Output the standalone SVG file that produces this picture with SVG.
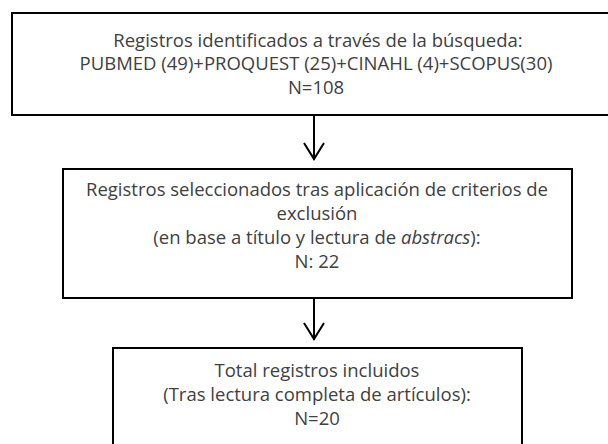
<svg xmlns="http://www.w3.org/2000/svg" width="608" height="444" viewBox="0 0 608 444">
<style>
.box{fill:#fff;stroke:#000;stroke-width:2}
.t{font-family:"Open Sans","Noto Sans",sans-serif;font-size:18.5px;fill:#404040;text-anchor:middle}
.c{fill:none;stroke:#000;stroke-width:2}
</style>
<rect width="608" height="444" fill="#fff"/>
<g id="connectors">
<line class="c" x1="314" y1="115" x2="314" y2="160"/>
<path class="c" d="M304,143 L314,159 L324,143"/>
<line class="c" x1="314" y1="298" x2="314" y2="340"/>
<path class="c" d="M304,323 L314,339 L324,323"/>
</g>
<g id="node1">
<rect class="box" x="12" y="13" width="610" height="102"/>
<text class="t" x="318" y="47">Registros identificados a través de la búsqueda:</text>
<text class="t" x="316" y="70">PUBMED (49)+PROQUEST (25)+CINAHL (4)+SCOPUS(30)</text>
<text class="t" x="316" y="94">N=108</text>
</g>
<g id="node2">
<rect class="box" x="63" y="169" width="509" height="129"/>
<text class="t" x="317" y="196">Registros seleccionados tras aplicación de criterios de</text>
<text class="t" x="317" y="220">exclusión</text>
<text class="t" x="317" y="244">(en base a título y lectura de <tspan font-style="italic">abstracs</tspan>):</text>
<text class="t" x="317" y="268">N: 22</text>
</g>
<g id="node3">
<rect class="box" x="113" y="348" width="409" height="110"/>
<text class="t" x="317" y="377">Total registros incluidos</text>
<text class="t" x="317" y="401">(Tras lectura completa de artículos):</text>
<text class="t" x="317" y="425">N=20</text>
</g>
</svg>
